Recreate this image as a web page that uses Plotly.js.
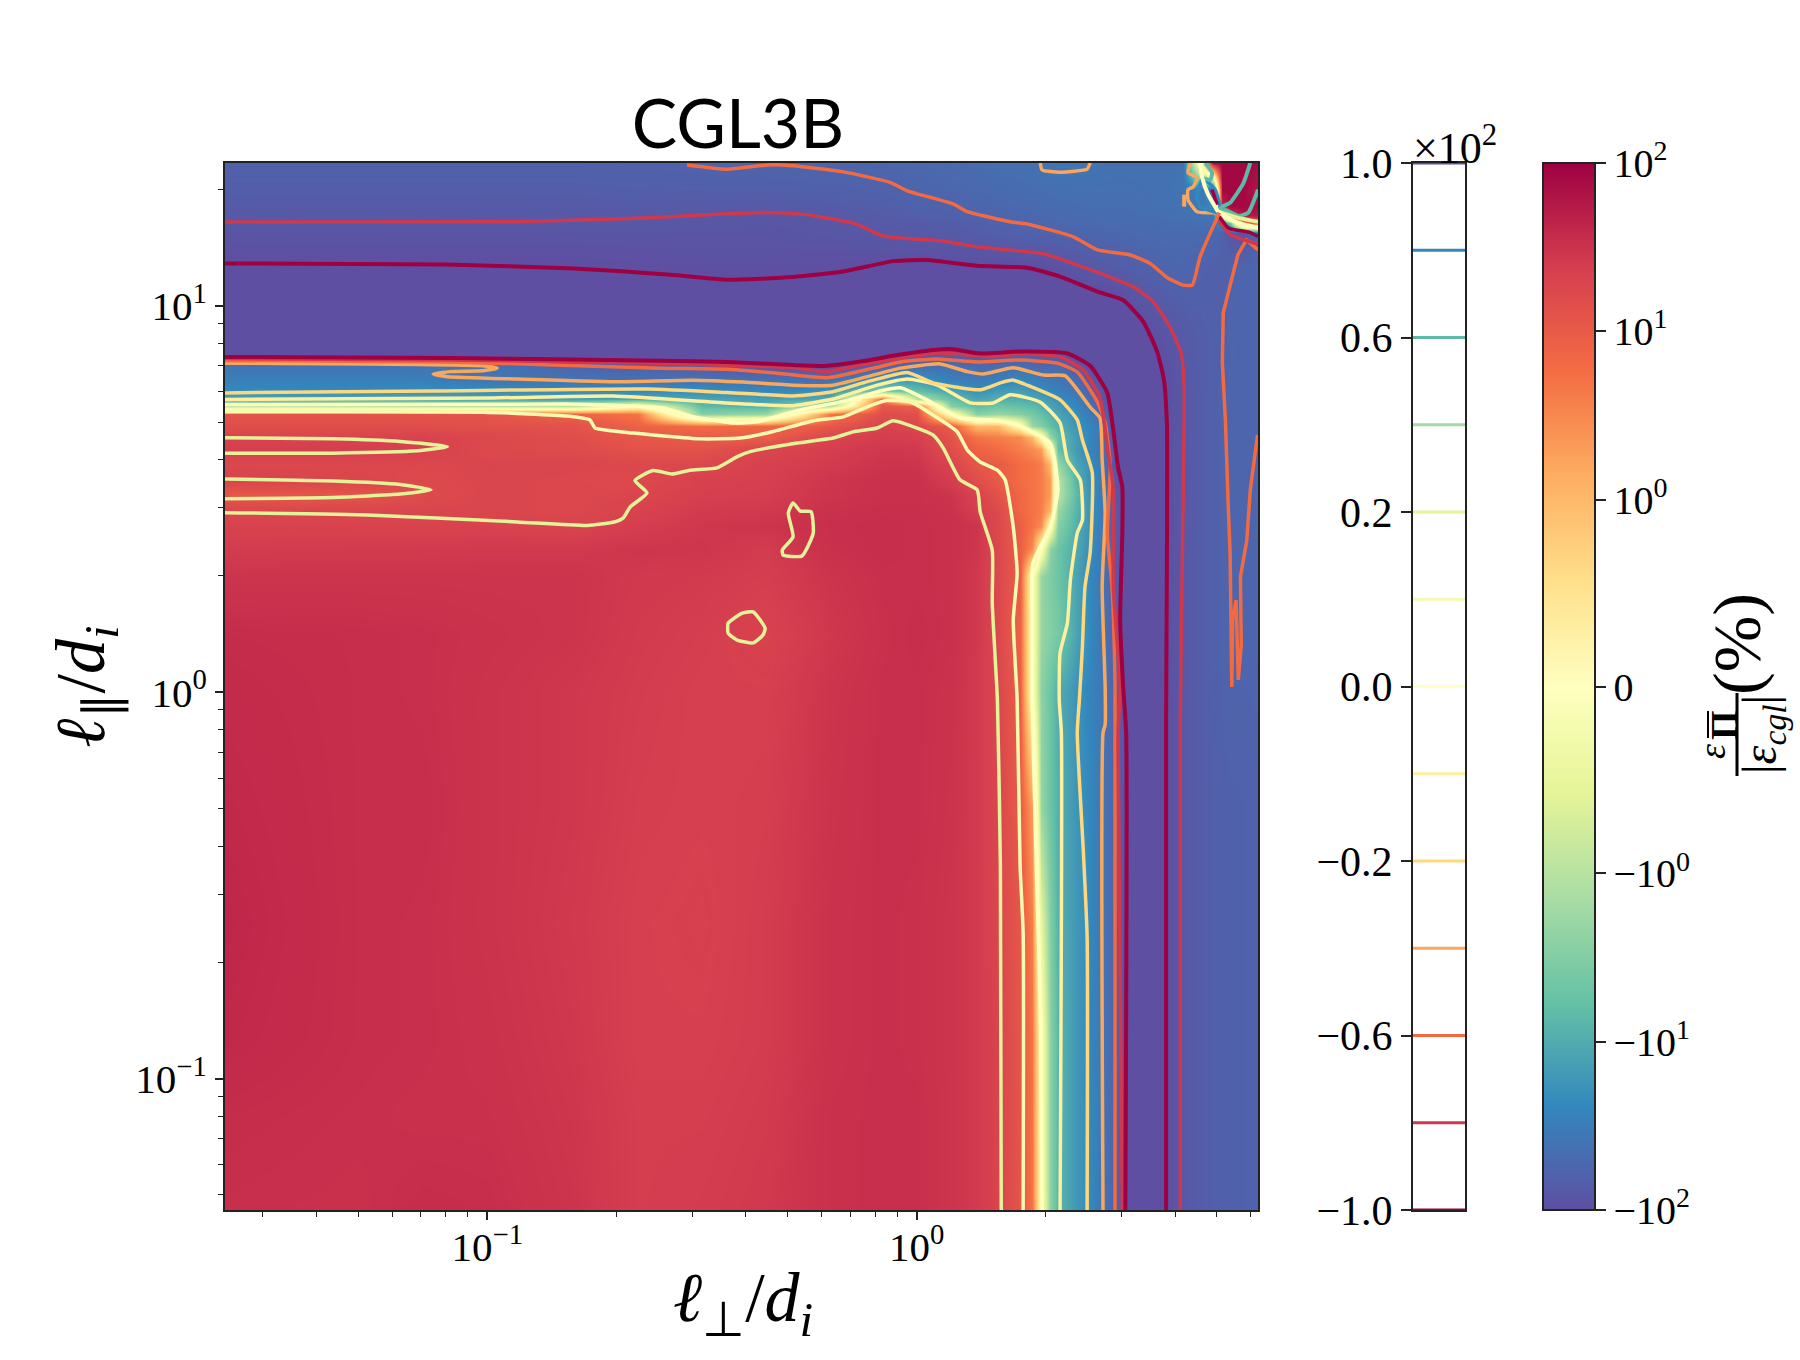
<!DOCTYPE html>
<html>
<head>
<meta charset="utf-8">
<script src="https://cdn.plot.ly/plotly-3.0.1.min.js"></script>
<style>body { margin: 0; background: #fff; }</style>
</head>
<body>
<div id="chart" style="width:1800px;height:1360px"></div>
<script>
// scale positions are log10 of l_perp/d_i and l_par/d_i
var gridLperp = [-1.61,-1.3,-1.15,-1.0,-0.8,-0.65,-0.5,-0.35,-0.2,-0.08,0,0.08,0.14,0.19,0.24,0.268,0.29,0.31,0.33,0.37,0.40,0.43,0.46,0.48,0.50,0.58,0.62,0.66,0.69,0.71,0.73,0.76,0.795];
var gridLpar = [1.37,1.30,1.26,1.235,1.215,1.19,1.1,0.98,0.89,0.868,0.855,0.84,0.81,0.78,0.76,0.74,0.72,0.69,0.66,0.63,0.59,0.55,0.51,0.47,0.43,0.37,0.30,0.15,0,-0.3,-0.6,-0.9,-1.1,-1.34];

// percent, one row per gridLpar entry (top of the plot first)
var fluxRatio = [
  [-63,-63,-63,-63,-63,-62,-60,-58,-57,-55,-52,-50,-48,-45,-44,-42,-40,-39,-38,-38,-39,-41,-42,-42,-42,-42,-41,0,70,85,85,85,85],
  [-70,-70,-70,-70,-70,-68,-68,-67,-65,-62,-59,-55,-52,-50,-48,-47,-46,-45,-45,-44,-44,-44,-44,-44,-44,-42,-39,-30,-90,85,85,85,60],
  [-75,-75,-75,-75,-74,-74,-75,-76,-73,-69,-62,-61,-58,-55,-52,-51,-50,-49,-48,-47,-46,-46,-46,-46,-46,-43,-42,-38,-20,40,85,85,80],
  [-78,-78,-78,-78,-78,-78,-79,-81,-78,-72,-68,-64,-60,-59,-55,-53,-52,-51,-51,-50,-49,-48,-48,-48,-47,-45,-42,-40,-35,0,30,60,60],
  [-81,-81,-81,-81,-81,-82,-83,-84,-82,-77,-75,-72,-66,-61,-58,-56,-55,-54,-54,-52,-51,-50,-50,-50,-49,-48,-47,-45,-42,-30,-5,5,10],
  [-88,-88,-88,-88,-88,-88,-88,-88,-83,-79,-78,-76,-72,-68,-62,-62,-62,-61,-60,-58,-56,-56,-55,-54,-52,-50,-50,-50,-52,-60,-85,-95,-60],
  [-102,-102,-102,-102,-100,-98,-97,-97,-99,-103,-103,-102,-100,-100,-102,-100,-99,-96,-93,-85,-80,-76,-72,-70,-68,-58,-56,-61,-65,-66,-62,-58,-57],
  [-130,-130,-130,-130,-130,-130,-130,-130,-130,-130,-130,-130,-130,-130,-130,-130,-130,-130,-130,-130,-130,-130,-130,-130,-103,-78,-72,-68,-65,-62,-58,-57,-57],
  [-130,-130,-130,-130,-130,-130,-130,-130,-130,-130,-110,-102,-110,-108,-106,-108,-110,-120,-130,-130,-130,-130,-130,-128,-125,-92,-78,-70,-67,-62,-59,-58,-58],
  [-100,-102,-102,-102,-105,-108,-110,-115,-120,-100,-78,-68,-80,-76,-65,-69,-73,-76,-80,-100,-125,-130,-130,-130,-130,-92,-78,-70,-67,-62,-59,-58,-58],
  [-48,-50,-55,-60,-78,-82,-90,-110,-120,-88,-62,-52,-60,-58,-53,-56,-59,-62,-65,-95,-115,-130,-130,-130,-128,-92,-79,-70,-66,-62,-59,-58,-58],
  [-37,-37,-37,-38,-55,-60,-64,-80,-90,-55,-42,-40,-47,-46,-43,-46,-50,-48,-47,-72,-95,-125,-130,-130,-130,-100,-80,-70,-66,-62,-58,-58,-58],
  [-30,-30,-31,-39,-41,-42,-43,-45,-47,-20,-17,-32,-36,-30,-25,-29,-34,-36,-37,-50,-80,-105,-130,-130,-130,-100,-80,-71,-66,-62,-58,-58,-57],
  [-22,-22,-20,-21,-22,-23,-20,-24,-19,-3,-6,-12,-20,-15,-14,-17,-20,-25,-30,-38,-60,-85,-130,-130,-130,-100,-80,-72,-66,-60,-58,-58,-57],
  [-11,-11,-11,-12,-13,-11,-12,-14,-10,7,-1,-6,-12,-9,-10,-11,-13,-16,-20,-30,-45,-80,-130,-130,-130,-100,-80,-72,-66,-60,-58,-58,-57],
  [-1,-1,-1,-1,-1,0,-7,-9,-1,12,9,-3,-7,-5,-6,-7,-9,-12,-15,-25,-40,-70,-120,-130,-130,-100,-80,-72,-66,-60,-58,-58,-57],
  [12,12,12,12,8,5,-3,-2,5,15,14,0,-3,-2,-3,-4,-6,-9,-12,-21,-32,-55,-125,-130,-130,-100,-80,-72,-66,-60,-58,-58,-57],
  [15,15,15,14,13,8,6,7,11,21,18,10,1,1,0,-2,-3,-6,-9,-17,-25,-34,-120,-130,-130,-100,-80,-72,-66,-60,-58,-58,-57],
  [20,20,21,18,15,11,10,9,20,24,23,13,5,4,3,1,0,-2,-6,-15,-23,-40,-100,-130,-130,-100,-80,-72,-66,-60,-58,-58,-57],
  [24,24,22,17,16,13,13,19,24,28,27,15,8,6,4,3,2,0,-6,-15,-24,-40,-90,-130,-130,-100,-80,-72,-66,-60,-58,-58,-57],
  [18,18,18,19,19,18,18,22,26,30,30,20,11,10,6,5,4,1,-2,-12,-18,-35,-90,-130,-130,-100,-80,-72,-66,-60,-58,-58,-57],
  [20,19,17,19,18,17,22,23,29,33,33,24,15,10,6,5,4,2,-1,-8,-18,-33,-72,-130,-130,-100,-80,-72,-66,-60,-58,-58,-57],
  [11,12,16,19,18,19,23,24,30,33,33,30,21,13,7,5,4,2,-1,-7,-17,-32,-80,-105,-130,-100,-80,-72,-66,-60,-58,-58,-57],
  [19,19,19,19,18,21,26,27,33,34,34,32,23,17,7,5,4,1,-2,-8,-17,-32,-68,-105,-130,-100,-80,-72,-66,-60,-58,-58,-57],
  [21,21,21,21,20,24,28,30,34,35,34,33,30,17,9,5,3,0,-3,-9,-17,-33,-68,-100,-130,-100,-80,-72,-66,-60,-58,-58,-57],
  [25,26,26,27,27,29,29,25,33,35,34,33,29,18,9,3,0,-2.5,-5,-11,-19,-33,-68,-105,-130,-100,-80,-72,-66,-60,-58,-58,-57],
  [30,30,30,30,30,27,26,24,30,34,34,33,27,18,9,0,-2,-3.5,-5,-12,-22,-36,-75,-105,-130,-100,-80,-72,-66,-60,-58,-58,-57],
  [36,35,34,32,30,26,24,21,28,33,35,33,27,18,8,0,-2,-3,-4,-12,-21,-37,-62,-98,-130,-100,-80,-72,-66,-60,-58,-58,-57],
  [38,35,34,31,28,25,23,23,30,34,34,32,26,19,9,0,-2.5,-5,-10,-18,-25,-36,-58,-95,-130,-100,-80,-72,-67,-62,-60,-60,-59],
  [40,35,35,31,28,24,23,24,31,34,34,31,26,19,10,2,-2,-5,-9,-17,-23,-36,-58,-90,-130,-100,-80,-72,-68,-65,-64,-63,-62],
  [42,35,34,31,27,23,22,25,32,34,33,30,26,19,11,4,-0.5,-3,-9,-16,-22,-37,-58,-95,-130,-100,-80,-72,-68,-65,-64,-63,-62],
  [40,35,34,32,28,23,23,25,32,34,33,30,26,20,12,5,0,-2.5,-8,-16,-22,-37,-58,-95,-130,-100,-80,-72,-68,-65,-64,-63,-62],
  [36,34,33,33,29,24,24,26,33,34,34,30,26,20,12,5,0,-2.5,-8,-16,-21,-37,-58,-95,-130,-100,-80,-72,-68,-65,-64,-63,-62],
  [34,33,36,35,30,24,25,27,33,34,34,30,26,20,12,5,0,-2.5,-8,-16,-21,-37,-58,-95,-130,-100,-80,-72,-68,-65,-64,-63,-62]
];

// contour levels (percent) and their colours
var contourLevels = [-100,-80,-60,-40,-20,-10,0,10,20,40,60,80,100];
var contourColors = ['#9e0142','#d0384e','#f26a42','#f9a75c','#fdd87f','#feef9f','#ffffbf','#f4fab0','#e2f398','#a5daa4','#5fb9a8','#3288bd','#5e4fa2'];
var contourBarTicks = ['\u22121.0','\u22120.6','\u22120.2','0.0','0.2','0.6','1.0'];
var contourBarTickLevels = [-100,-60,-20,0,20,60,100];

var colorTicks = [-100,-10,-1,0,1,10,100];
var colorTickText = ['\u221210<sup>2</sup>','\u221210<sup>1</sup>','\u221210<sup>0</sup>','0','10<sup>0</sup>','10<sup>1</sup>','10<sup>2</sup>'];

var xMinorTicks = [0.03,0.04,0.05,0.06,0.07,0.08,0.09,0.2,0.3,0.4,0.5,0.6,0.7,0.8,0.9,2,3,4,5,6];
var yMinorTicks = [0.05,0.06,0.07,0.08,0.09,0.2,0.3,0.4,0.5,0.6,0.7,0.8,0.9,2,3,4,5,6,7,8,9,20];

// contour traces: log10 l_perp / log10 l_par pairs
var m100OuterX = [-1.612,-1.096,-0.798,-0.574,-0.441,-0.288,-0.171,-0.055,0.024,0.141,0.257,0.334,0.427,0.481,0.528,0.560,0.576,0.583,0.583,0.581,0.581];
var m100OuterY = [1.110,1.107,1.097,1.081,1.068,1.075,1.089,1.116,1.119,1.104,1.099,1.076,1.035,1.015,0.959,0.882,0.808,0.687,0.394,-0.072,-1.340];
var m100InnerX = [-1.611,-1.087,-0.597,-0.441,-0.288,-0.208,-0.132,-0.055,0.038,0.085,0.148,0.241,0.351,0.404,0.444,0.458,0.469,0.479,0.479,0.474,0.481,0.488,0.486];
var m100InnerY = [0.868,0.865,0.858,0.855,0.847,0.845,0.856,0.871,0.886,0.888,0.877,0.882,0.877,0.845,0.775,0.679,0.583,0.531,0.412,0.187,0.014,-0.105,-1.340];
var m80OuterX = [-1.611,-0.947,-0.649,-0.455,-0.353,-0.262,-0.143,-0.078,0.062,0.141,0.295,0.397,0.467,0.504,0.551,0.591,0.616,0.623,0.621,0.614,0.614];
var m80OuterY = [1.217,1.218,1.227,1.238,1.242,1.237,1.213,1.181,1.168,1.153,1.135,1.097,1.067,1.050,1.011,0.943,0.878,0.791,0.531,-0.072,-1.340];
var m80InnerX = [-1.611,-1.087,-0.597,-0.288,-0.208,-0.132,-0.038,0.048,0.178,0.241,0.334,0.388,0.427,0.446,0.458,0.458,0.474,0.469,0.479];
var m80InnerY = [0.864,0.860,0.852,0.840,0.830,0.847,0.865,0.878,0.869,0.876,0.868,0.834,0.762,0.619,0.531,0.272,0.014,-0.115,-1.340];
var m60TopX = [-0.535,-0.441,-0.348,-0.288,-0.171,-0.062,-0.022,0.085,0.118,0.218,0.257,0.365,0.421,0.497,0.544,0.584,0.621,0.642,0.660,0.705];
var m60TopY = [1.365,1.354,1.365,1.363,1.347,1.320,1.298,1.264,1.244,1.218,1.212,1.179,1.145,1.132,1.110,1.073,1.054,1.054,1.127,1.241];
var m60SpikeX = [0.795,0.768,0.748,0.714,0.712,0.719,0.726,0.730,0.734,0.736,0.744,0.746,0.749,0.756,0.754,0.769,0.777,0.794];
var m60SpikeY = [1.145,1.171,1.132,0.982,0.853,0.705,0.472,0.361,0.014,0.187,0.239,0.117,0.032,0.122,0.298,0.394,0.524,0.666];
var m60InnerX = [-1.611,-1.087,-0.597,-0.441,-0.325,-0.208,-0.101,-0.038,0.048,0.141,0.241,0.327,0.374,0.421,0.439,0.451,0.444,0.455,0.462,0.462];
var m60InnerY = [0.859,0.855,0.839,0.836,0.826,0.814,0.839,0.855,0.863,0.855,0.860,0.852,0.829,0.751,0.697,0.584,0.412,0.272,0.014,-1.340];
var m40MainX = [-1.611,-1.010,-0.977,-1.010,-1.087,-1.126,-1.093,-0.931,-0.698,-0.521,-0.404,-0.288,-0.195,-0.115,-0.038,0.055,0.118,0.155,0.225,0.295,0.346,0.404,0.427,0.432,0.439,0.432,0.439,0.439,0.434,0.434];
var m40MainY = [0.852,0.845,0.839,0.832,0.830,0.824,0.817,0.811,0.804,0.808,0.803,0.795,0.795,0.817,0.839,0.850,0.830,0.824,0.840,0.821,0.819,0.738,0.710,0.601,0.464,0.273,0.014,-0.084,-0.105,-1.340];
var m40PatchX = [0.288,0.292,0.334,0.397,0.404];
var m40PatchY = [1.370,1.352,1.346,1.354,1.370];
var m40CornerX = [0.637,0.632,0.653,0.644,0.632,0.632,0.653,0.700];
var m40CornerY = [1.370,1.345,1.332,1.308,1.301,1.275,1.244,1.241];
var m40BlobX = [0.623,0.623];
var m40BlobY = [1.288,1.257];
var m20MainX = [-1.611,-1.126,-0.628,-0.441,-0.288,-0.195,-0.115,-0.022,0.038,0.148,0.195,0.225,0.257,0.334,0.374,0.386,0.409,0.404,0.392,0.386,0.379,0.374,0.388,0.397,0.397];
var m20MainY = [0.775,0.780,0.785,0.776,0.767,0.778,0.804,0.828,0.801,0.783,0.801,0.808,0.795,0.757,0.705,0.653,0.568,0.361,0.273,0.118,-0.019,-0.105,-0.408,-0.633,-1.340];
var m10MainX = [-1.611,-0.986,-0.707,-0.441,-0.288,-0.195,-0.092,-0.022,0.048,0.125,0.178,0.218,0.288,0.334,0.351,0.381,0.386,0.374,0.358,0.351,0.334,0.332,0.337,0.334];
var m10MainY = [0.758,0.762,0.767,0.749,0.742,0.759,0.795,0.811,0.795,0.749,0.749,0.770,0.751,0.697,0.601,0.550,0.446,0.412,0.291,0.179,0.102,-0.019,-0.105,-1.340];
var zeroMainX = [-1.611,-0.814,-0.660,-0.590,-0.521,-0.427,-0.372,-0.271,-0.155,-0.085,-0.038,0.015,0.101,0.178,0.234,0.311,0.329,0.311,0.271,0.269,0.269,0.281,0.288,0.292];
var zeroMainY = [0.745,0.746,0.741,0.736,0.713,0.697,0.700,0.731,0.757,0.780,0.788,0.762,0.710,0.705,0.692,0.645,0.524,0.428,0.335,0.187,-0.019,-0.537,-0.796,-1.340];
var p10MainX = [-1.611,-1.010,-0.814,-0.761,-0.749,-0.660,-0.504,-0.411,-0.334,-0.241,-0.171,-0.115,-0.069,-0.015,0.038,0.094,0.118,0.148,0.188,0.206,0.225,0.234,0.225,0.234,0.241,0.248,0.248];
var p10MainY = [0.726,0.725,0.715,0.705,0.684,0.671,0.656,0.658,0.675,0.703,0.713,0.739,0.755,0.752,0.718,0.675,0.627,0.596,0.575,0.550,0.428,0.309,0.187,-0.019,-0.451,-0.622,-1.340];
var p20MainX = [-1.611,-1.280,-0.931,-0.767,-0.707,-0.684,-0.667,-0.628,-0.656,-0.614,-0.570,-0.528,-0.465,-0.418,-0.388,-0.278,-0.195,-0.148,-0.092,-0.055,0.001,0.038,0.062,0.101,0.141,0.148,0.176,0.176,0.188,0.195,0.197];
var p20MainY = [0.465,0.459,0.441,0.432,0.440,0.451,0.480,0.516,0.548,0.574,0.565,0.575,0.581,0.610,0.623,0.645,0.658,0.674,0.684,0.703,0.684,0.666,0.632,0.550,0.524,0.467,0.368,0.231,-0.019,-0.451,-1.340];
var p20TongueAX = [-1.611,-1.359,-1.203,-1.093,-1.163,-1.359,-1.611];
var p20TongueAY = [0.659,0.656,0.649,0.636,0.625,0.619,0.619];
var p20TongueBX = [-1.611,-1.359,-1.203,-1.131,-1.203,-1.359,-1.611];
var p20TongueBY = [0.552,0.547,0.538,0.524,0.513,0.504,0.501];
var p20IslandAX = [-0.288,-0.271,-0.246,-0.241,-0.267,-0.311,-0.313,-0.288,-0.299,-0.288];
var p20IslandAY = [0.490,0.469,0.467,0.412,0.353,0.355,0.368,0.402,0.464,0.490];
var p20IslandBX = [-0.439,-0.406,-0.381,-0.353,-0.358,-0.381,-0.418,-0.439,-0.439];
var p20IslandBY = [0.179,0.205,0.208,0.166,0.148,0.128,0.135,0.153,0.179];
// top right corner
var p60CornerAX = [0.777,0.761,0.730,0.712,0.702];
var p60CornerAY = [1.370,1.318,1.267,1.257,1.244];
var p60CornerBX = [0.795,0.772,0.749,0.719,0.702];
var p60CornerBY = [1.301,1.241,1.233,1.248,1.244];
var p60CornerCX = [0.672,0.688,0.684,0.665];
var p60CornerCY = [1.370,1.345,1.326,1.332];
var zeroCornerAX = [0.702,0.742,0.795];
var zeroCornerAY = [1.244,1.218,1.202];
var zeroCornerBX = [0.660,0.665,0.679,0.702];
var zeroCornerBY = [1.370,1.332,1.288,1.244];
var p20CornerX = [0.702,0.749,0.795];
var p20CornerY = [1.244,1.228,1.218];
var p80LeafAX = [0.665,0.695,0.707,0.684,0.665];
var p80LeafAY = [1.332,1.301,1.249,1.262,1.332];
var p80LeafBX = [0.665,0.653,0.660,0.702];
var p80LeafBY = [1.332,1.280,1.257,1.241];
var m100CornerX = [0.702,0.726,0.777,0.795];
var m100CornerY = [1.236,1.202,1.190,1.180];
var m100LeafX = [0.688,0.700];
var m100LeafY = [1.301,1.262];
var m80CornerX = [0.702,0.730,0.795];
var m80CornerY = [1.225,1.185,1.160];

function fromExp(v) { return v.map(function(e) { return Math.pow(10, e); }); }

// symlog colour norm, linthresh 1, linscale 1
var linScale = 1 / 0.9;
function symlog(v) {
  var a = Math.abs(v);
  var s = a < 1 ? linScale * a : linScale + Math.log10(a);
  return v < 0 ? -s : s;
}

function px2x(p) { return p / 1800; }
function px2y(p) { return 1 - p / 1360; }

var serif = '"Liberation Serif", "Times New Roman", serif';

var spectral = ['#5e4fa2','#3288bd','#66c2a5','#abdda4','#e6f598','#ffffbf','#fee08b','#fdae61','#f46d43','#d53e4f','#9e0142'];
var colorscale = spectral.map(function(c, i) { return [i / 10, c]; });

var heat = {
  type: 'heatmap',
  x: fromExp(gridLperp),
  y: fromExp(gridLpar.slice().reverse()),
  z: fluxRatio.slice().reverse().map(function(row) { return row.map(symlog); }),
  zsmooth: 'best',
  zmin: -symlog(100),
  zmax: symlog(100),
  colorscale: colorscale,
  hoverinfo: 'skip',
  colorbar: {
    x: px2x(1543), xanchor: 'left', xpad: 0,
    y: px2y(163), yanchor: 'top', ypad: 0,
    len: 1047, lenmode: 'pixels',
    thickness: 52, thicknessmode: 'pixels',
    outlinewidth: 2, outlinecolor: '#222',
    tickmode: 'array',
    tickvals: colorTicks.map(symlog),
    ticktext: colorTickText,
    ticks: 'outside', ticklen: 10, tickwidth: 2, tickcolor: '#222',
    tickfont: {family: serif, size: 40, color: '#000'}
  }
};

function contourTrace(level, xs, ys, width, jagged) {
  var line = {color: contourColors[contourLevels.indexOf(level)], width: width || 3.5};
  if(!jagged) { line.shape = 'spline'; line.smoothing = 0.5; }
  return {
    type: 'scatter', mode: 'lines',
    x: fromExp(xs), y: fromExp(ys),
    line: line,
    hoverinfo: 'skip', showlegend: false
  };
}

var data = [
  heat,
  contourTrace(-60, m60SpikeX, m60SpikeY, 3.5, true),
  contourTrace(-40, m40PatchX, m40PatchY),
  contourTrace(-40, m40CornerX, m40CornerY),
  contourTrace(-40, m40BlobX, m40BlobY, 4),
  contourTrace(80, p80LeafAX, p80LeafAY),
  contourTrace(80, p80LeafBX, p80LeafBY),
  contourTrace(-100, m100LeafX, m100LeafY),
  contourTrace(-80, m80CornerX, m80CornerY),
  contourTrace(-100, m100CornerX, m100CornerY),
  contourTrace(60, p60CornerAX, p60CornerAY, 4),
  contourTrace(60, p60CornerBX, p60CornerBY, 4),
  contourTrace(60, p60CornerCX, p60CornerCY, 4),
  contourTrace(20, p20CornerX, p20CornerY, 4),
  contourTrace(0, zeroCornerAX, zeroCornerAY, 4),
  contourTrace(0, zeroCornerBX, zeroCornerBY, 4),
  contourTrace(20, p20MainX, p20MainY),
  contourTrace(20, p20TongueAX, p20TongueAY),
  contourTrace(20, p20TongueBX, p20TongueBY),
  contourTrace(20, p20IslandAX, p20IslandAY),
  contourTrace(20, p20IslandBX, p20IslandBY),
  contourTrace(10, p10MainX, p10MainY),
  contourTrace(0, zeroMainX, zeroMainY),
  contourTrace(-10, m10MainX, m10MainY),
  contourTrace(-20, m20MainX, m20MainY),
  contourTrace(-40, m40MainX, m40MainY),
  contourTrace(-60, m60TopX, m60TopY),
  contourTrace(-60, m60InnerX, m60InnerY),
  contourTrace(-80, m80OuterX, m80OuterY),
  contourTrace(-80, m80InnerX, m80InnerY),
  contourTrace(-100, m100OuterX, m100OuterY, 4),
  contourTrace(-100, m100InnerX, m100InnerY, 4)
];

// contour level key: the levels sit evenly spaced on their own axis
contourLevels.forEach(function(level, i) {
  data.push({
    type: 'scatter', mode: 'lines', xaxis: 'x2', yaxis: 'y2',
    x: [0, 1], y: [i, i],
    line: {color: contourColors[i], width: 3},
    hoverinfo: 'skip', showlegend: false
  });
});

var frame = {showline: true, mirror: true, linewidth: 2, linecolor: '#222', showgrid: false, zeroline: false};
var tickFont = {family: serif, size: 41, color: '#000'};
var labelFont = {family: serif, size: 70, color: '#000'};

function minorTicks(vals) {
  return {tickmode: 'array', tickvals: vals, ticks: 'outside', ticklen: 5, tickwidth: 1, tickcolor: '#222', showgrid: false};
}

// rotated or placed text, centred on a page position
function pageText(text, x, y, size, angle) {
  return {
    xref: 'paper', yref: 'paper', x: px2x(x), y: px2y(y),
    xanchor: 'center', yanchor: 'middle', showarrow: false, textangle: angle || 0,
    text: text, font: {family: serif, size: size, color: '#000'}
  };
}

var layout = {
  width: 1800, height: 1360,
  margin: {l: 0, r: 0, t: 0, b: 0},
  paper_bgcolor: '#fff', plot_bgcolor: '#fff',
  showlegend: false,
  xaxis: Object.assign({}, frame, {
    type: 'log', range: [-1.611, 0.795],
    domain: [px2x(225), px2x(1258)],
    tickvals: [0.1, 1], ticktext: ['10<sup>\u22121</sup>', '10<sup>0</sup>'],
    ticks: 'outside', ticklen: 8, tickwidth: 2, tickcolor: '#222', ticklabelstandoff: -8,
    tickfont: tickFont, minor: minorTicks(xMinorTicks)
  }),
  yaxis: Object.assign({}, frame, {
    type: 'log', range: [-1.340, 1.370],
    domain: [px2y(1210), px2y(163)],
    tickvals: [0.1, 1, 10], ticktext: ['10<sup>\u22121</sup>', '10<sup>0</sup>', '10<sup>1</sup>'],
    ticks: 'outside', ticklen: 8, tickwidth: 2, tickcolor: '#222',
    tickfont: tickFont, minor: minorTicks(yMinorTicks),
    title: {text: '<i>\u2113</i><sub>\u2225</sub>/<i>d<sub>i</sub></i>', font: labelFont, standoff: 8}
  }),
  xaxis2: Object.assign({}, frame, {
    anchor: 'y2', domain: [px2x(1413), px2x(1465)], range: [0, 1],
    showticklabels: false, ticks: ''
  }),
  yaxis2: Object.assign({}, frame, {
    anchor: 'x2', domain: [px2y(1210), px2y(163)], range: [0, 12],
    tickmode: 'array',
    tickvals: contourBarTickLevels.map(function(l) { return contourLevels.indexOf(l); }),
    ticktext: contourBarTicks,
    ticks: 'outside', ticklen: 10, tickwidth: 2, tickcolor: '#222',
    tickfont: {family: serif, size: 42, color: '#000'}
  }),
  title: {
    text: 'CGL3B', x: px2x(738), xanchor: 'center', y: px2y(148), yanchor: 'bottom',
    font: {family: 'Lato', size: 68, color: '#000'}
  },
  annotations: [
    pageText('<i>\u2113</i><sub>\u22a5</sub>/<i>d<sub>i</sub></i>', 743, 1303, 70),
    {xref: 'paper', yref: 'paper', x: px2x(1411), y: px2y(175), xanchor: 'left', yanchor: 'bottom', showarrow: false,
     text: '\u00d710<sup>2</sup>', font: {family: serif, size: 44, color: '#000'}},
    pageText('(%)', 1737, 644, 68, -90),
    pageText('<i>\u03b5</i>', 1712, 752, 38, -90),
    pageText('<b>\u03a0</b>', 1724, 725, 38, -90),
    pageText('|<i>\u03b5<sub>cgl</sub></i>|', 1763, 735, 48, -90)
  ],
  shapes: [
    {type: 'line', xref: 'paper', yref: 'paper', x0: px2x(1737), x1: px2x(1737), y0: px2y(693), y1: px2y(776), line: {color: '#000', width: 3}},
    {type: 'line', xref: 'paper', yref: 'paper', x0: px2x(1708), x1: px2x(1708), y0: px2y(711), y1: px2y(738), line: {color: '#000', width: 2}}
  ]
};

Plotly.newPlot('chart', data, layout, {displayModeBar: false});
</script>
</body>
</html>
